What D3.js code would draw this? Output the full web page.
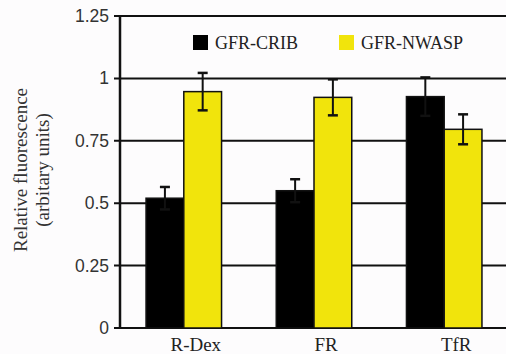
<!DOCTYPE html>
<html lang="en">
<head>
    <meta charset="UTF-8">
    <title>Relative fluorescence</title>
    <script src="https://d3js.org/d3.v7.min.js"></script>
    <style>
        body {
            margin: 0;
            background-color: #fdfcfd;
        }
        #chart svg {
            display: block;
        }
    </style>
</head>
<body>
<div id="chart"></div>

<script>
    // data
    const categories = ["R-Dex", "FR", "TfR"];
    const series = ["GFR-CRIB", "GFR-NWASP"];
    const crib = [0.52, 0.55, 0.927];
    const cribErr = [0.045, 0.046, 0.077];
    const nwasp = [0.947, 0.924, 0.796];
    const nwaspErr = [0.075, 0.072, 0.06];
    const yTicks = [0, 0.25, 0.5, 0.75, 1, 1.25];
    const yTickLabels = ["0", "0.25", "0.5", "0.75", "1", "1.25"];

    const colors = { "GFR-CRIB": "#000000", "GFR-NWASP": "#f1e40c" };
    const SERIF = '"Liberation Serif"';
    const SANS = '"Liberation Sans"';

    const width = 506;
    const height = 354;
    const plotLeft = 120, plotTop = 16, plotBottom = 328, plotRight = 508;

    const rows = [];
    categories.forEach((c, i) => {
        rows.push({ cat: c, s: "GFR-CRIB", v: crib[i], e: cribErr[i] });
        rows.push({ cat: c, s: "GFR-NWASP", v: nwasp[i], e: nwaspErr[i] });
    });

    const svg = d3.select("#chart")
        .append("svg")
        .attr("width", width)
        .attr("height", height);

    const y = d3.scaleLinear().domain([0, 1.25]).range([plotBottom, plotTop]);
    const x0 = d3.scaleBand().domain(categories).range([plotLeft, plotRight])
        .paddingInner(0.42).paddingOuter(0.2);
    const x1 = d3.scaleBand().domain(series).range([0, x0.bandwidth()]);

    // gridlines
    svg.selectAll("line.grid")
        .data(yTicks)
        .enter()
        .append("line")
        .attr("x1", plotLeft - 6)
        .attr("x2", width)
        .attr("y1", d => y(d))
        .attr("y2", d => y(d))
        .attr("stroke", "#111")
        .attr("stroke-width", 2);

    // y axis line
    svg.append("line")
        .attr("x1", plotLeft).attr("x2", plotLeft)
        .attr("y1", y(1.25) - 1).attr("y2", y(0) + 1)
        .attr("stroke", "#111")
        .attr("stroke-width", 2.5);

    // tick labels
    svg.selectAll("text.ytick")
        .data(yTicks)
        .enter()
        .append("text")
        .style("font-family", SANS)
        .attr("x", plotLeft - 11)
        .attr("y", d => y(d) + 6)
        .attr("text-anchor", "end")
        .attr("font-size", "17.5px")
        .attr("fill", "#333")
        .text((d, i) => yTickLabels[i]);

    // bars
    svg.selectAll("rect.bar")
        .data(rows)
        .enter()
        .append("rect")
        .attr("x", d => x0(d.cat) + x1(d.s))
        .attr("y", d => y(d.v))
        .attr("width", x1.bandwidth())
        .attr("height", d => y(0) - y(d.v))
        .attr("fill", d => colors[d.s])
        .attr("stroke", "#111")
        .attr("stroke-width", 1.5);

    // error bars
    const err = svg.selectAll("g.err")
        .data(rows)
        .enter()
        .append("g")
        .attr("transform", d => `translate(${x0(d.cat) + x1(d.s) + x1.bandwidth() / 2},0)`);

    err.append("line")
        .attr("y1", d => y(d.v - d.e))
        .attr("y2", d => y(d.v + d.e))
        .attr("stroke", "#111")
        .attr("stroke-width", 2);

    err.append("line")
        .attr("x1", -5).attr("x2", 5)
        .attr("y1", d => y(d.v + d.e))
        .attr("y2", d => y(d.v + d.e))
        .attr("stroke", "#111")
        .attr("stroke-width", 2.5);

    err.append("line")
        .attr("x1", -5).attr("x2", 5)
        .attr("y1", d => y(d.v - d.e))
        .attr("y2", d => y(d.v - d.e))
        .attr("stroke", "#111")
        .attr("stroke-width", 2.5);

    // category labels
    svg.selectAll("text.cat")
        .data(categories)
        .enter()
        .append("text")
        .style("font-family", SERIF)
        .attr("x", d => x0(d) + x0.bandwidth() / 2 + 12)
        .attr("y", 351)
        .attr("text-anchor", "middle")
        .attr("font-size", "19px")
        .attr("fill", "#222")
        .text(d => d);

    // legend
    const legendX = [193, 339];
    const legend = svg.selectAll("g.legend")
        .data(series)
        .enter()
        .append("g")
        .attr("transform", (d, i) => `translate(${legendX[i]},35)`);

    legend.append("rect")
        .attr("width", 15)
        .attr("height", 15)
        .attr("fill", d => colors[d]);

    legend.append("text")
        .style("font-family", SERIF)
        .attr("x", 22)
        .attr("y", 14)
        .attr("font-size", "18px")
        .attr("fill", "#222")
        .text(d => d);

    // y axis title
    const yTitle = svg.append("text")
        .style("font-family", SERIF)
        .attr("transform", "translate(27,170) rotate(-90)")
        .attr("text-anchor", "middle")
        .attr("font-size", "19px")
        .attr("fill", "#333");
    yTitle.append("tspan").attr("x", 0).attr("y", 0).text("Relative fluorescence");
    yTitle.append("tspan").attr("x", 0).attr("y", 22).text("(arbitary units)");
</script>
</body>
</html>
